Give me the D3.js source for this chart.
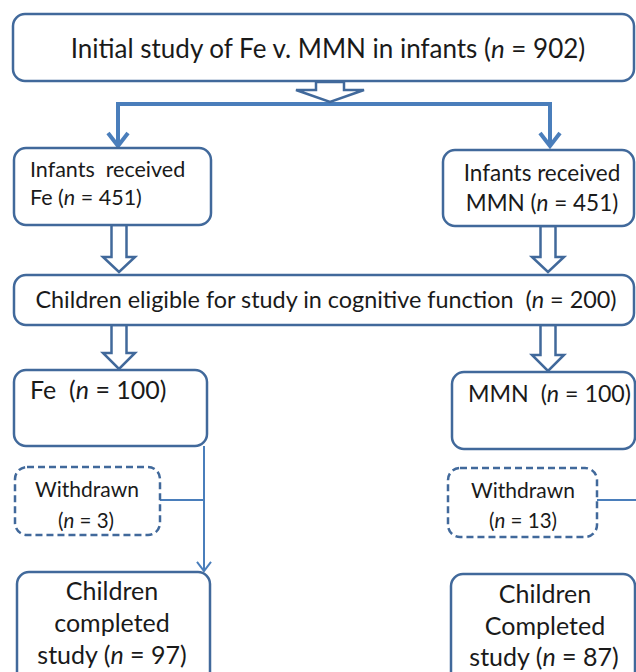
<!DOCTYPE html>
<html>
<head>
<meta charset="utf-8">
<script src="https://cdn.jsdelivr.net/npm/d3@7"></script>
<style>
  html, body { margin: 0; padding: 0; background: #fff; }
  svg { display: block; }
  text { white-space: pre; }
</style>
</head>
<body>
<svg id="chart"></svg>
<script>
// study numbers
const groups = ['Fe', 'MMN'];
const initialN = 902;
const eligibleN = 200;
const receivedN = [451, 451];
const allocatedN = [100, 100];
const withdrawnN = [3, 13];
const completedN = [97, 87];

const width = 636, height = 672;
const boxStroke = '#41699b';
const lineColor = '#4a7ebb';
const font = 'Lato, "Open Sans", sans-serif';

const svg = d3.select('#chart')
  .attr('width', width)
  .attr('height', height);

// layout of the boxes (pixel positions of the flow chart)
const boxes = [
  { x: 13, y: 14, w: 621, h: 67, lines: [
      { t: `Initial study of Fe v. MMN in infants (*n* = ${initialN})`, x: 328, y: 58, size: 26, anchor: 'middle' }] },
  { x: 14, y: 148, w: 197, h: 77, lines: [
      { t: 'Infants  received', x: 30, y: 177, size: 21.5, anchor: 'start' },
      { t: `${groups[0]} (*n* = ${receivedN[0]})`, x: 30, y: 205, size: 21.5, anchor: 'start' }] },
  { x: 443, y: 150, w: 191, h: 76, lines: [
      { t: 'Infants received', x: 542, y: 181, size: 22.5, anchor: 'middle' },
      { t: `${groups[1]} (*n* = ${receivedN[1]})`, x: 542, y: 211, size: 22.5, anchor: 'middle' }] },
  { x: 14, y: 275, w: 620, h: 50, lines: [
      { t: `Children eligible for study in cognitive function  (*n* = ${eligibleN})`, x: 326, y: 308, size: 23.4, anchor: 'middle' }] },
  { x: 14, y: 370, w: 193, h: 76, lines: [
      { t: `${groups[0]}  (*n* = ${allocatedN[0]})`, x: 30, y: 399, size: 25, anchor: 'start' }] },
  { x: 452, y: 372, w: 183, h: 77, lines: [
      { t: `${groups[1]}  (*n* = ${allocatedN[1]})`, x: 468, y: 402, size: 23.2, anchor: 'start' }] },
  { x: 15, y: 467, w: 145, h: 68, dashed: true, lines: [
      { t: 'Withdrawn', x: 87, y: 497, size: 21, anchor: 'middle' },
      { t: `(*n* = ${withdrawnN[0]})`, x: 86, y: 528, size: 20.5, anchor: 'middle' }] },
  { x: 448, y: 468, w: 149, h: 69, dashed: true, lines: [
      { t: 'Withdrawn', x: 523, y: 498, size: 21, anchor: 'middle' },
      { t: `(*n* = ${withdrawnN[1]})`, x: 523, y: 528, size: 20.5, anchor: 'middle' }] },
  { x: 17, y: 572, w: 193, h: 120, lines: [
      { t: 'Children', x: 112, y: 600, size: 25, anchor: 'middle' },
      { t: 'completed', x: 112, y: 632, size: 25, anchor: 'middle' },
      { t: `study (*n* = ${completedN[0]})`, x: 112, y: 664, size: 25, anchor: 'middle' }] },
  { x: 451, y: 574, w: 184, h: 120, lines: [
      { t: 'Children', x: 545, y: 603, size: 25, anchor: 'middle' },
      { t: 'Completed', x: 545, y: 635, size: 25, anchor: 'middle' },
      { t: `study (*n* = ${completedN[1]})`, x: 544, y: 666, size: 25, anchor: 'middle' }] }
];

// hollow block arrows
const blockArrows = [
  { cx: 330, y0: 82, y1: 102, hy: 90, sw: 14, hw: 34 },
  { cx: 119, y0: 225, y1: 272, hy: 257, sw: 7.5, hw: 16 },
  { cx: 548, y0: 226, y1: 272, hy: 257, sw: 7.5, hw: 16 },
  { cx: 119, y0: 325, y1: 369, hy: 353, sw: 7.5, hw: 16 },
  { cx: 548, y0: 325, y1: 371, hy: 355, sw: 7.5, hw: 16 }
];

// thin connector lines
const connectors = [
  { pts: [[118, 146], [118, 104], [550, 104], [550, 146]], w: 4 },
  { pts: [[204, 446], [204, 570]], w: 2 },
  { pts: [[160, 500], [204, 500]], w: 2 },
  { pts: [[597, 500], [640, 500]], w: 2 }
];
const heads = [
  { x: 118, y: 146, s: 10, w: 4 },
  { x: 550, y: 146, s: 10, w: 4 },
  { x: 204, y: 571, s: 7, w: 2 }
];

const line = d3.line();

svg.append('g').selectAll('path')
  .data(connectors)
  .enter().append('path')
  .attr('d', d => line(d.pts))
  .attr('fill', 'none')
  .attr('stroke', lineColor)
  .attr('stroke-width', d => d.w);

svg.append('g').selectAll('path')
  .data(heads)
  .enter().append('path')
  .attr('d', d => line([[d.x - d.s, d.y - d.s * 1.3], [d.x, d.y], [d.x + d.s, d.y - d.s * 1.3]]))
  .attr('fill', 'none')
  .attr('stroke', lineColor)
  .attr('stroke-width', d => d.w)
  .attr('stroke-linejoin', 'miter');

svg.append('g').selectAll('path')
  .data(blockArrows)
  .enter().append('path')
  .attr('d', d => line([
    [d.cx - d.sw, d.y0], [d.cx + d.sw, d.y0], [d.cx + d.sw, d.hy], [d.cx + d.hw, d.hy],
    [d.cx, d.y1], [d.cx - d.hw, d.hy], [d.cx - d.sw, d.hy]
  ]) + 'Z')
  .attr('fill', '#fff')
  .attr('stroke', boxStroke)
  .attr('stroke-width', 2.5)
  .attr('stroke-linejoin', 'miter');

const box = svg.append('g').selectAll('g')
  .data(boxes)
  .enter().append('g');

box.append('rect')
  .attr('x', d => d.x)
  .attr('y', d => d.y)
  .attr('width', d => d.w)
  .attr('height', d => d.h)
  .attr('rx', 12)
  .attr('fill', '#fff')
  .attr('stroke', boxStroke)
  .attr('stroke-width', 2.5)
  .attr('stroke-dasharray', d => d.dashed ? '7,4' : null);

const texts = box.selectAll('text')
  .data(d => d.lines)
  .enter().append('text')
  .attr('x', d => d.x)
  .attr('y', d => d.y)
  .attr('text-anchor', d => d.anchor)
  .attr('font-family', font)
  .attr('font-size', d => d.size)
  .attr('fill', '#1a1a1a');

// split on *...* to italicise the n
texts.each(function(d) {
  const parts = d.t.split('*');
  d3.select(this).selectAll('tspan')
    .data(parts)
    .enter().append('tspan')
    .attr('font-style', (p, i) => i % 2 ? 'italic' : null)
    .text(p => p);
});
</script>
</body>
</html>
